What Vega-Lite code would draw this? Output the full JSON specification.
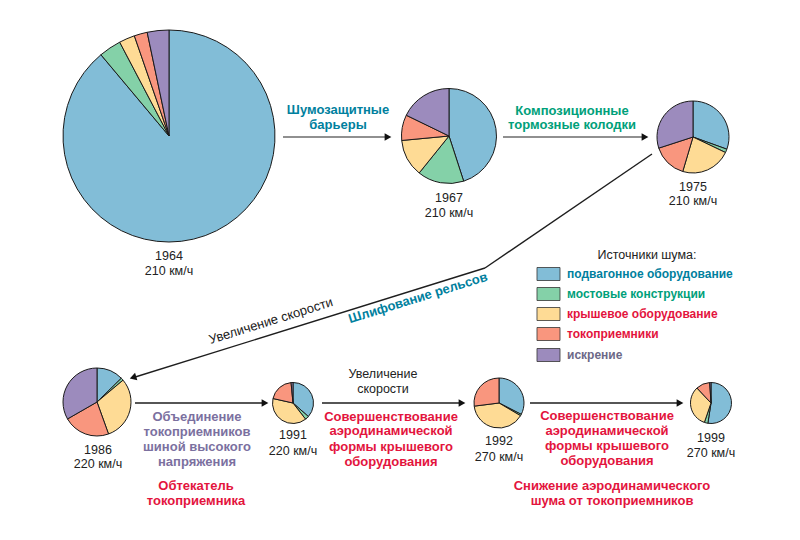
{
  "$schema": "https://vega.github.io/schema/vega-lite/v6.json",
  "width": 800,
  "height": 540,
  "autosize": "none",
  "padding": 0,
  "background": "white",
  "config": {"view": {"stroke": null}, "font": "Liberation Sans"},
  "datasets": {
    "pies": [
      {"year": "1964", "k": 1, "src": "подвагонное оборудование", "pct": 88.9, "r": 106, "cx": 169, "cy": 136},
      {"year": "1964", "k": 2, "src": "мостовые конструкции", "pct": 3.4, "r": 106, "cx": 169, "cy": 136},
      {"year": "1964", "k": 3, "src": "крышевое оборудование", "pct": 2.4, "r": 106, "cx": 169, "cy": 136},
      {"year": "1964", "k": 4, "src": "токоприемники", "pct": 2.0, "r": 106, "cx": 169, "cy": 136},
      {"year": "1964", "k": 5, "src": "искрение", "pct": 3.3, "r": 106, "cx": 169, "cy": 136},
      {"year": "1967", "k": 1, "src": "подвагонное оборудование", "pct": 45, "r": 47.5, "cx": 449, "cy": 136},
      {"year": "1967", "k": 2, "src": "мостовые конструкции", "pct": 15.8, "r": 47.5, "cx": 449, "cy": 136},
      {"year": "1967", "k": 3, "src": "крышевое оборудование", "pct": 12.7, "r": 47.5, "cx": 449, "cy": 136},
      {"year": "1967", "k": 4, "src": "токоприемники", "pct": 8.7, "r": 47.5, "cx": 449, "cy": 136},
      {"year": "1967", "k": 5, "src": "искрение", "pct": 17.8, "r": 47.5, "cx": 449, "cy": 136},
      {"year": "1975", "k": 1, "src": "подвагонное оборудование", "pct": 30.5, "r": 36, "cx": 693, "cy": 137},
      {"year": "1975", "k": 2, "src": "мостовые конструкции", "pct": 1.6, "r": 36, "cx": 693, "cy": 137},
      {"year": "1975", "k": 3, "src": "крышевое оборудование", "pct": 22.5, "r": 36, "cx": 693, "cy": 137},
      {"year": "1975", "k": 4, "src": "токоприемники", "pct": 15.4, "r": 36, "cx": 693, "cy": 137},
      {"year": "1975", "k": 5, "src": "искрение", "pct": 30, "r": 36, "cx": 693, "cy": 137},
      {"year": "1986", "k": 1, "src": "подвагонное оборудование", "pct": 12.7, "r": 34, "cx": 97, "cy": 402},
      {"year": "1986", "k": 2, "src": "мостовые конструкции", "pct": 1.2, "r": 34, "cx": 97, "cy": 402},
      {"year": "1986", "k": 3, "src": "крышевое оборудование", "pct": 30.6, "r": 34, "cx": 97, "cy": 402},
      {"year": "1986", "k": 4, "src": "токоприемники", "pct": 22.2, "r": 34, "cx": 97, "cy": 402},
      {"year": "1986", "k": 5, "src": "искрение", "pct": 33.3, "r": 34, "cx": 97, "cy": 402},
      {"year": "1991", "k": 1, "src": "подвагонное оборудование", "pct": 36.5, "r": 20.5, "cx": 293, "cy": 403},
      {"year": "1991", "k": 2, "src": "мостовые конструкции", "pct": 3, "r": 20.5, "cx": 293, "cy": 403},
      {"year": "1991", "k": 3, "src": "крышевое оборудование", "pct": 39, "r": 20.5, "cx": 293, "cy": 403},
      {"year": "1991", "k": 4, "src": "токоприемники", "pct": 20, "r": 20.5, "cx": 293, "cy": 403},
      {"year": "1991", "k": 5, "src": "искрение", "pct": 1.5, "r": 20.5, "cx": 293, "cy": 403},
      {"year": "1992", "k": 1, "src": "подвагонное оборудование", "pct": 32.5, "r": 25, "cx": 499, "cy": 403},
      {"year": "1992", "k": 2, "src": "мостовые конструкции", "pct": 1, "r": 25, "cx": 499, "cy": 403},
      {"year": "1992", "k": 3, "src": "крышевое оборудование", "pct": 39.5, "r": 25, "cx": 499, "cy": 403},
      {"year": "1992", "k": 4, "src": "токоприемники", "pct": 27, "r": 25, "cx": 499, "cy": 403},
      {"year": "1999", "k": 1, "src": "подвагонное оборудование", "pct": 52.5, "r": 20.5, "cx": 711, "cy": 403},
      {"year": "1999", "k": 2, "src": "мостовые конструкции", "pct": 2.8, "r": 20.5, "cx": 711, "cy": 403},
      {"year": "1999", "k": 3, "src": "крышевое оборудование", "pct": 32.8, "r": 20.5, "cx": 711, "cy": 403},
      {"year": "1999", "k": 4, "src": "токоприемники", "pct": 11, "r": 20.5, "cx": 711, "cy": 403},
      {"year": "1999", "k": 5, "src": "искрение", "pct": 1, "r": 20.5, "cx": 711, "cy": 403}
    ],
    "lines": [
      {"tone": "grey", "x": 283, "y": 137, "x2": 388, "y2": 137},
      {"tone": "grey", "x": 503, "y": 137, "x2": 645, "y2": 137},
      {"tone": "dark", "x": 652, "y": 154, "x2": 485, "y2": 268},
      {"tone": "dark", "x": 485, "y": 268, "x2": 132, "y2": 378},
      {"tone": "dark", "x": 135, "y": 403, "x2": 265, "y2": 403},
      {"tone": "dark", "x": 322, "y": 403, "x2": 462, "y2": 403},
      {"tone": "dark", "x": 530, "y": 403, "x2": 680, "y2": 403}
    ],
    "heads": [
      {"x": 388, "y": 137, "ang": 0},
      {"x": 645, "y": 137, "ang": 0},
      {"x": 133, "y": 377.5, "ang": 162.7},
      {"x": 265, "y": 403, "ang": 0},
      {"x": 462, "y": 403, "ang": 0},
      {"x": 680, "y": 403, "ang": 0}
    ],
    "plain": [
      {"t": "1964", "x": 169, "y": 256},
      {"t": "210 км/ч", "x": 169, "y": 271},
      {"t": "1967", "x": 449, "y": 198},
      {"t": "210 км/ч", "x": 449, "y": 213},
      {"t": "1975", "x": 693, "y": 187},
      {"t": "210 км/ч", "x": 693, "y": 201},
      {"t": "1986", "x": 98, "y": 450},
      {"t": "220 км/ч", "x": 98, "y": 464},
      {"t": "1991", "x": 293, "y": 435},
      {"t": "220 км/ч", "x": 293, "y": 451},
      {"t": "1992", "x": 499, "y": 441},
      {"t": "270 км/ч", "x": 499, "y": 457},
      {"t": "1999", "x": 711, "y": 438},
      {"t": "270 км/ч", "x": 711, "y": 453},
      {"t": "Увеличение", "x": 383, "y": 374},
      {"t": "скорости", "x": 383, "y": 389},
      {"t": "Источники шума:", "x": 647, "y": 255}
    ],
    "bold": [
      {"t": "Шумозащитные", "x": 338, "y": 110, "role": "teal"},
      {"t": "барьеры", "x": 338, "y": 125, "role": "teal"},
      {"t": "Композиционные", "x": 572, "y": 111, "role": "green"},
      {"t": "тормозные колодки", "x": 572, "y": 125, "role": "green"},
      {"t": "Объединение", "x": 197, "y": 417, "role": "purple"},
      {"t": "токоприемников", "x": 197, "y": 432, "role": "purple"},
      {"t": "шиной высокого", "x": 197, "y": 447, "role": "purple"},
      {"t": "напряжения", "x": 197, "y": 462, "role": "purple"},
      {"t": "Обтекатель", "x": 196, "y": 486, "role": "red"},
      {"t": "токоприемника", "x": 196, "y": 501, "role": "red"},
      {"t": "Совершенствование", "x": 391, "y": 417, "role": "red"},
      {"t": "аэродинамической", "x": 391, "y": 431, "role": "red"},
      {"t": "формы крышевого", "x": 391, "y": 447, "role": "red"},
      {"t": "оборудования", "x": 391, "y": 462, "role": "red"},
      {"t": "Совершенствование", "x": 607, "y": 416, "role": "red"},
      {"t": "аэродинамической", "x": 607, "y": 431, "role": "red"},
      {"t": "формы крышевого", "x": 607, "y": 446, "role": "red"},
      {"t": "оборудования", "x": 607, "y": 461, "role": "red"},
      {"t": "Снижение аэродинамического", "x": 612, "y": 486, "role": "red"},
      {"t": "шума от токоприемников", "x": 612, "y": 501, "role": "red"}
    ],
    "slanted": [
      {"t": "Увеличение скорости", "x": 271, "y": 321, "ang": 342.7, "role": "plain"},
      {"t": "Шлифование рельсов", "x": 418, "y": 298, "ang": 342.7, "role": "teal"}
    ],
    "legend": [
      {"src": "подвагонное оборудование", "x": 548.5, "tx": 567, "y": 274, "role": "teal"},
      {"src": "мостовые конструкции", "x": 548.5, "tx": 567, "y": 294, "role": "green"},
      {"src": "крышевое оборудование", "x": 548.5, "tx": 567, "y": 314, "role": "red"},
      {"src": "токоприемники", "x": 548.5, "tx": 567, "y": 334, "role": "red"},
      {"src": "искрение", "x": 548.5, "tx": 567, "y": 355, "role": "grape"}
    ]
  },
  "layer": [
    {
      "data": {"name": "pies"},
      "transform": [
        {"stack": "pct", "groupby": ["year"], "sort": [{"field": "k", "order": "ascending"}], "offset": "normalize", "as": ["t0", "t1"]}
      ],
      "mark": {"type": "arc", "stroke": "#1a1a1a", "strokeWidth": 1},
      "encoding": {
        "x": {"field": "cx", "type": "quantitative", "scale": {"domain": [0, 800], "range": [0, 800]}, "axis": null},
        "y": {"field": "cy", "type": "quantitative", "scale": {"domain": [0, 540], "range": [0, 540]}, "axis": null},
        "theta": {"field": "t0", "type": "quantitative", "scale": {"domain": [0, 1], "range": [0, 6.283185307]}},
        "theta2": {"field": "t1"},
        "radius": {"field": "r", "type": "quantitative", "scale": {"type": "linear", "domain": [0, 106], "range": [0, 106], "zero": true}},
        "color": {"field": "src", "type": "nominal", "legend": null,
          "scale": {"domain": ["подвагонное оборудование", "мостовые конструкции", "крышевое оборудование", "токоприемники", "искрение"],
                    "range": ["#82bdd7", "#84d1a8", "#fedb95", "#f9967e", "#9c8bbd"]}}
      }
    },
    {
      "data": {"name": "lines"},
      "mark": {"type": "rule", "strokeWidth": 1.4},
      "encoding": {
        "x": {"field": "x", "type": "quantitative", "scale": {"domain": [0, 800], "range": [0, 800]}, "axis": null},
        "y": {"field": "y", "type": "quantitative", "scale": {"domain": [0, 540], "range": [0, 540]}, "axis": null},
        "x2": {"field": "x2"},
        "y2": {"field": "y2"},
        "stroke": {"field": "tone", "type": "nominal", "legend": null, "scale": {"domain": ["grey", "dark"], "range": ["#6b6b6b", "#1e1e1e"]}}
      }
    },
    {
      "data": {"name": "heads"},
      "mark": {"type": "point", "shape": "triangle-right", "filled": true, "size": 60, "color": "#111", "opacity": 1},
      "encoding": {
        "x": {"field": "x", "type": "quantitative", "scale": {"domain": [0, 800], "range": [0, 800]}, "axis": null},
        "y": {"field": "y", "type": "quantitative", "scale": {"domain": [0, 540], "range": [0, 540]}, "axis": null},
        "angle": {"field": "ang", "type": "quantitative", "scale": null}
      }
    },
    {
      "data": {"name": "plain"},
      "mark": {"type": "text", "fontSize": 12.5, "color": "#222", "baseline": "middle", "align": "center"},
      "encoding": {
        "x": {"field": "x", "type": "quantitative", "scale": {"domain": [0, 800], "range": [0, 800]}, "axis": null},
        "y": {"field": "y", "type": "quantitative", "scale": {"domain": [0, 540], "range": [0, 540]}, "axis": null},
        "text": {"field": "t"}
      }
    },
    {
      "data": {"name": "bold"},
      "mark": {"type": "text", "fontSize": 13, "fontWeight": "bold", "baseline": "middle", "align": "center"},
      "encoding": {
        "x": {"field": "x", "type": "quantitative", "scale": {"domain": [0, 800], "range": [0, 800]}, "axis": null},
        "y": {"field": "y", "type": "quantitative", "scale": {"domain": [0, 540], "range": [0, 540]}, "axis": null},
        "text": {"field": "t"},
        "fill": {"field": "role", "type": "nominal", "legend": null,
          "scale": {"domain": ["teal", "green", "red", "purple", "grape", "plain"], "range": ["#00809e", "#00a07a", "#e3143d", "#7b709f", "#6c6887", "#222222"]}}
      }
    },
    {
      "data": {"name": "slanted"},
      "transform": [{"filter": "datum.role === 'plain'"}],
      "mark": {"type": "text", "fontSize": 13, "baseline": "middle", "align": "center"},
      "encoding": {
        "x": {"field": "x", "type": "quantitative", "scale": {"domain": [0, 800], "range": [0, 800]}, "axis": null},
        "y": {"field": "y", "type": "quantitative", "scale": {"domain": [0, 540], "range": [0, 540]}, "axis": null},
        "text": {"field": "t"},
        "angle": {"field": "ang", "type": "quantitative", "scale": null},
        "fill": {"field": "role", "type": "nominal", "legend": null,
          "scale": {"domain": ["teal", "green", "red", "purple", "grape", "plain"], "range": ["#00809e", "#00a07a", "#e3143d", "#7b709f", "#6c6887", "#222222"]}}
      }
    },
    {
      "data": {"name": "slanted"},
      "transform": [{"filter": "datum.role !== 'plain'"}],
      "mark": {"type": "text", "fontSize": 13, "fontWeight": "bold", "baseline": "middle", "align": "center"},
      "encoding": {
        "x": {"field": "x", "type": "quantitative", "scale": {"domain": [0, 800], "range": [0, 800]}, "axis": null},
        "y": {"field": "y", "type": "quantitative", "scale": {"domain": [0, 540], "range": [0, 540]}, "axis": null},
        "text": {"field": "t"},
        "angle": {"field": "ang", "type": "quantitative", "scale": null},
        "fill": {"field": "role", "type": "nominal", "legend": null,
          "scale": {"domain": ["teal", "green", "red", "purple", "grape", "plain"], "range": ["#00809e", "#00a07a", "#e3143d", "#7b709f", "#6c6887", "#222222"]}}
      }
    },
    {
      "data": {"name": "legend"},
      "mark": {"type": "point", "shape": "M-1.77,-1H1.77V1H-1.77Z", "filled": true, "size": 169, "stroke": "#333", "strokeWidth": 0.8, "opacity": 1},
      "encoding": {
        "x": {"field": "x", "type": "quantitative", "scale": {"domain": [0, 800], "range": [0, 800]}, "axis": null},
        "y": {"field": "y", "type": "quantitative", "scale": {"domain": [0, 540], "range": [0, 540]}, "axis": null},
        "color": {"field": "src", "type": "nominal", "legend": null,
          "scale": {"domain": ["подвагонное оборудование", "мостовые конструкции", "крышевое оборудование", "токоприемники", "искрение"],
                    "range": ["#82bdd7", "#84d1a8", "#fedb95", "#f9967e", "#9c8bbd"]}}
      }
    },
    {
      "data": {"name": "legend"},
      "mark": {"type": "text", "fontSize": 12, "fontWeight": "bold", "baseline": "middle", "align": "left"},
      "encoding": {
        "x": {"field": "tx", "type": "quantitative", "scale": {"domain": [0, 800], "range": [0, 800]}, "axis": null},
        "y": {"field": "y", "type": "quantitative", "scale": {"domain": [0, 540], "range": [0, 540]}, "axis": null},
        "text": {"field": "src"},
        "fill": {"field": "role", "type": "nominal", "legend": null,
          "scale": {"domain": ["teal", "green", "red", "purple", "grape", "plain"], "range": ["#00809e", "#00a07a", "#e3143d", "#7b709f", "#6c6887", "#222222"]}}
      }
    }
  ],
  "resolve": {"scale": {"color": "independent", "fill": "shared", "stroke": "independent"}}
}
